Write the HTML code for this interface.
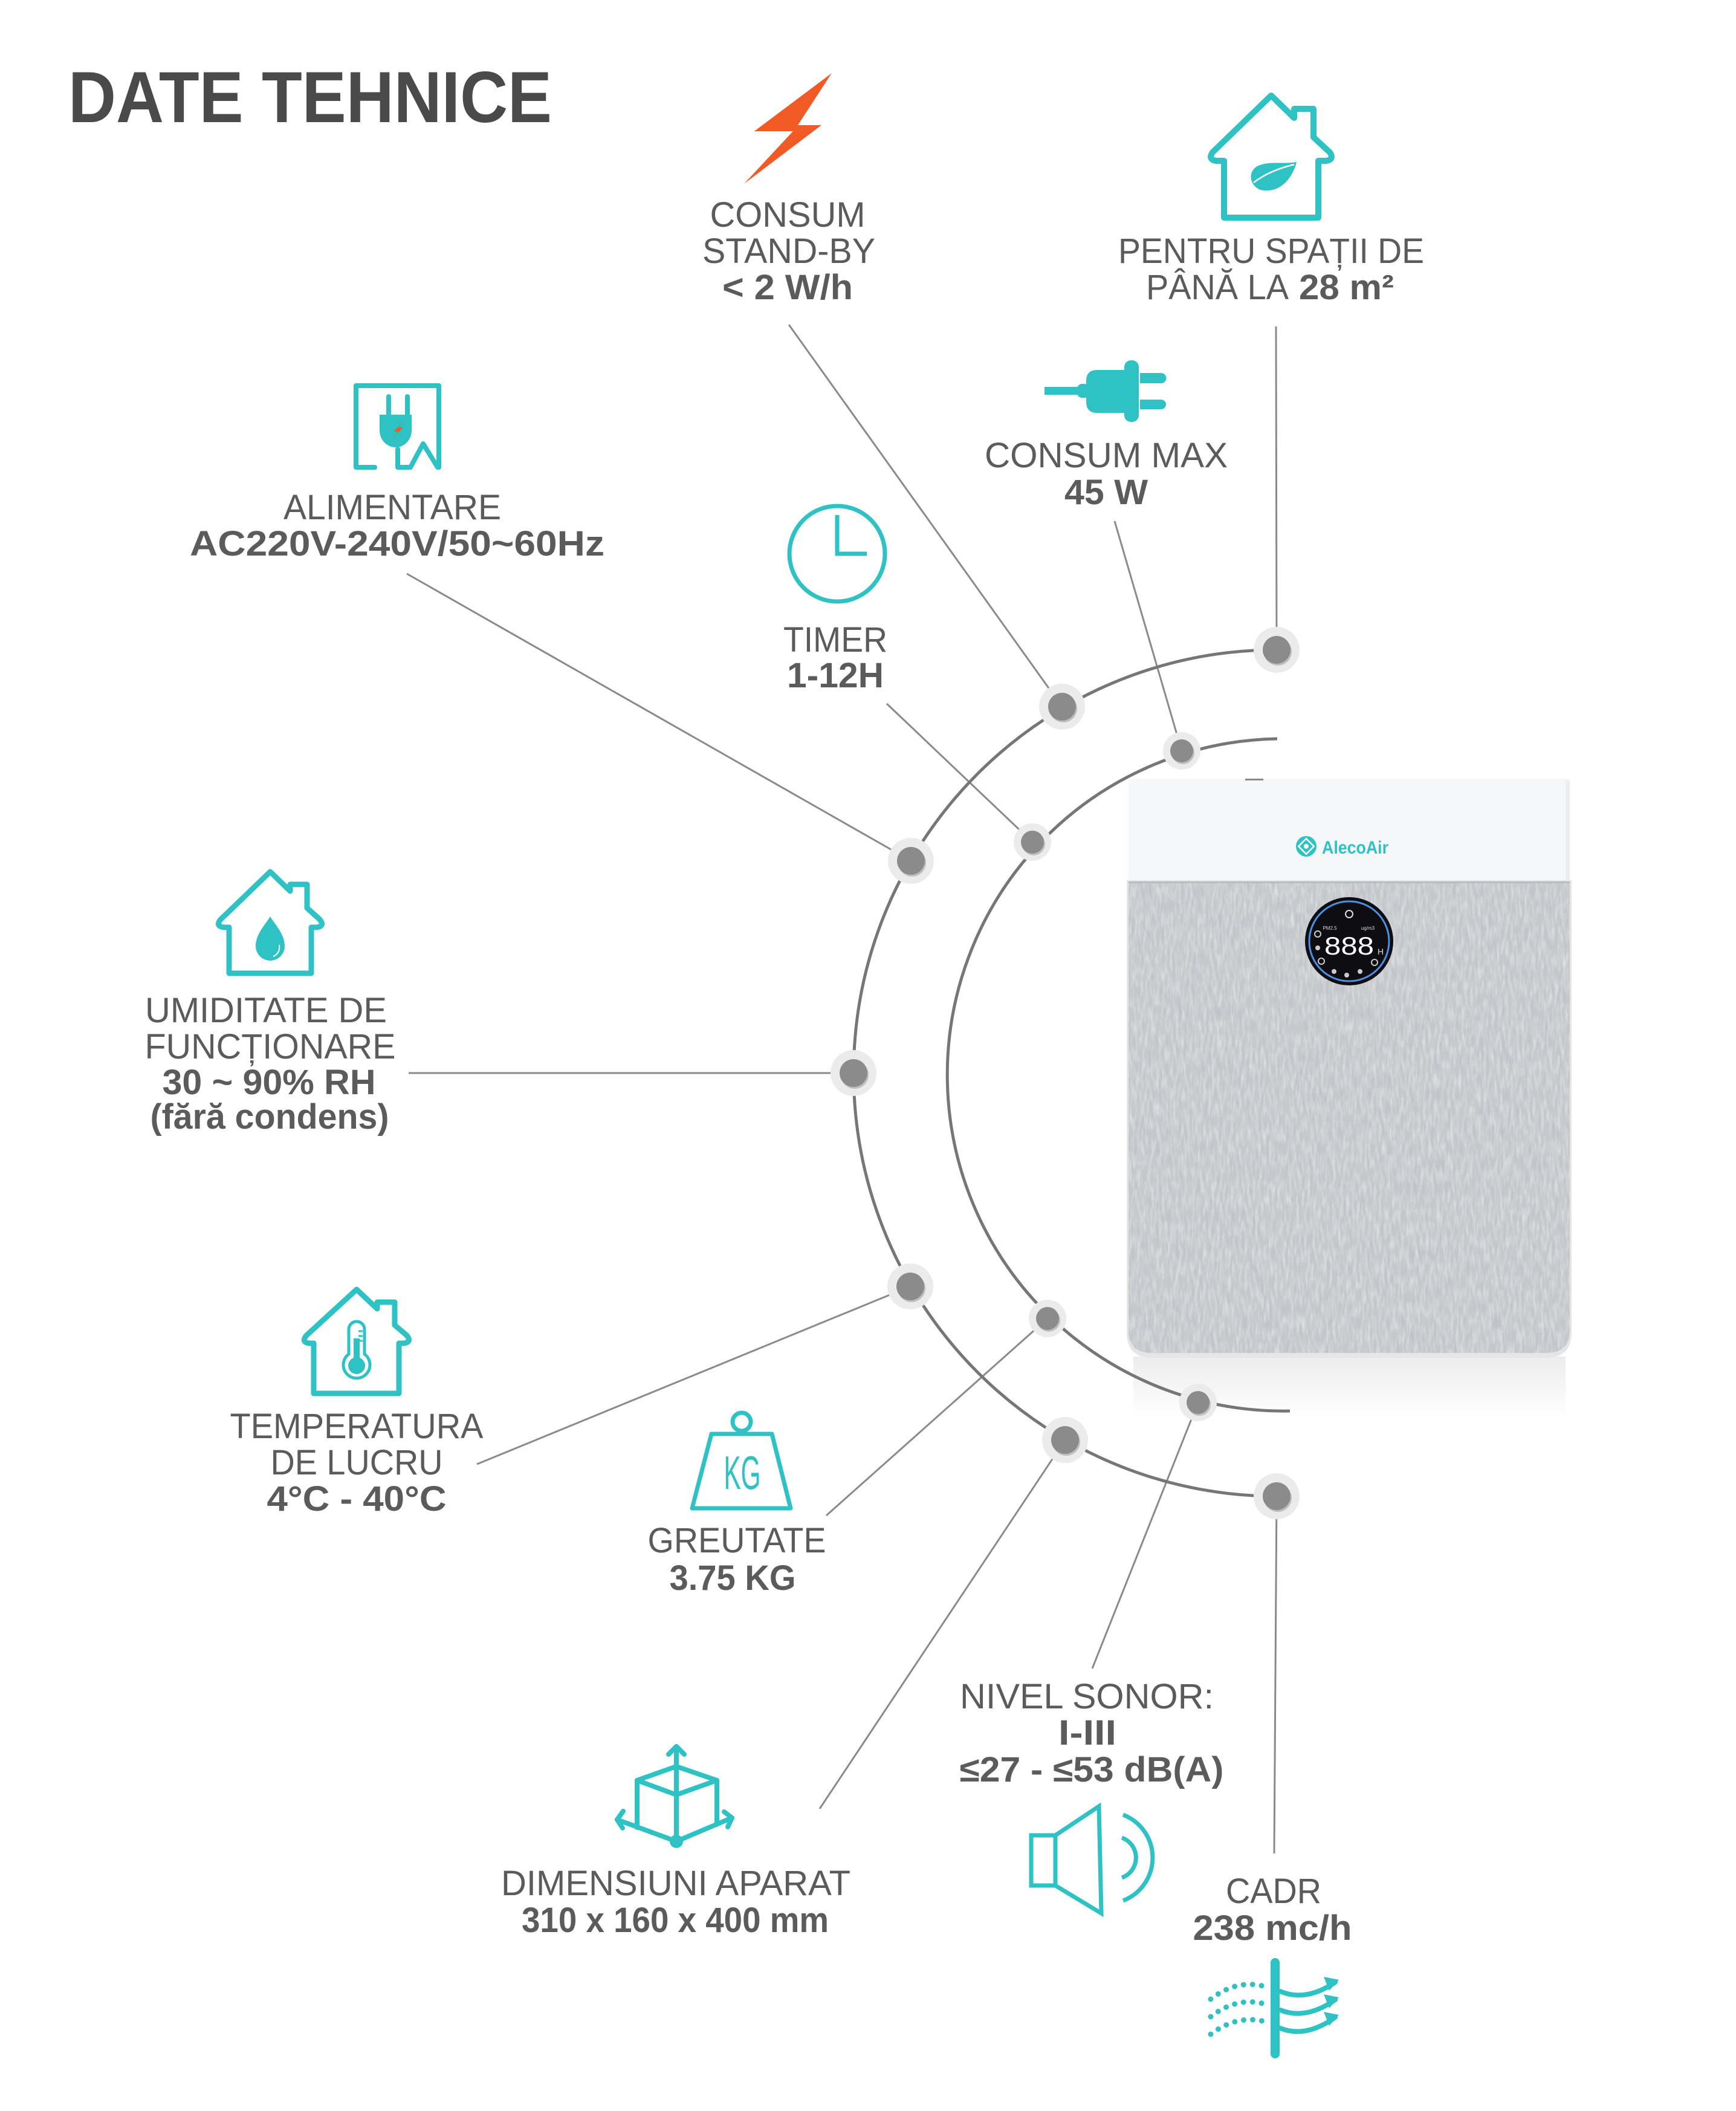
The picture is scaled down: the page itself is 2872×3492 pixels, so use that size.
<!DOCTYPE html>
<html>
<head>
<meta charset="utf-8">
<style>
html,body{margin:0;padding:0;background:#fff;}
svg{display:block;}
text{font-family:"Liberation Sans",Arial,sans-serif;}
</style>
</head>
<body>
<svg width="2872" height="3492" viewBox="0 0 2872 3492" xmlns="http://www.w3.org/2000/svg">
<defs>
  <filter id="noise" x="0" y="0" width="1" height="1">
    <feTurbulence type="fractalNoise" baseFrequency="0.22 0.045" numOctaves="3" seed="7" result="t"/>
    <feColorMatrix in="t" type="matrix" values="0 0 0 0 1  0 0 0 0 1  0 0 0 0 1  0.9 0 0 0 -0.33"/>
  </filter>
  <filter id="noise2" x="0" y="0" width="1" height="1">
    <feTurbulence type="fractalNoise" baseFrequency="0.18 0.035" numOctaves="2" seed="3" result="t"/>
    <feColorMatrix in="t" type="matrix" values="0 0 0 0 0.45  0 0 0 0 0.46  0 0 0 0 0.5  0.8 0 0 0 -0.33"/>
  </filter>
  <clipPath id="fc"><path d="M1867 1459 H2597 V2200 Q2597 2238 2559 2238 H1905 Q1867 2238 1867 2200 Z"/></clipPath>
  <linearGradient id="refl" x1="0" y1="0" x2="0" y2="1">
    <stop offset="0" stop-color="#ececec"/>
    <stop offset="1" stop-color="#ffffff"/>
  </linearGradient>
</defs>
<rect width="2872" height="3492" fill="#fff"/>

<!-- Title -->
<text x="113" y="202" font-size="120" font-weight="700" fill="#4a4a4a" textLength="800" lengthAdjust="spacingAndGlyphs">DATE TEHNICE</text>

<!-- Product -->
<rect x="1875" y="2244" width="715" height="100" fill="url(#refl)"/>
<path d="M1867 1460 V1296 Q1867 1288 1875 1288 H2589 Q2597 1288 2597 1296 V1460 Z" fill="#f6f7f8"/>
<rect x="2590" y="1290" width="7" height="170" fill="#eceeef"/>
<rect x="2060" y="1288" width="30" height="3" fill="#888"/>
<path d="M1864 1456 H2600 V2204 Q2600 2246 2558 2246 H1906 Q1864 2246 1864 2204 Z" fill="#e4e5e7"/>
<rect x="1867" y="1459" width="730" height="780" fill="#c6c8cc" clip-path="url(#fc)"/>
<g clip-path="url(#fc)">
  <rect x="1867" y="1459" width="730" height="780" filter="url(#noise)"/>
  <rect x="1867" y="1459" width="730" height="780" filter="url(#noise2)"/>
</g>
<rect x="1867" y="1458" width="730" height="3" fill="#b9bbbf"/>
<!-- logo -->
<circle cx="2161" cy="1400" r="17" fill="#2fc2c4"/>
<rect x="2152" y="1391" width="18" height="18" fill="none" stroke="#fff" stroke-width="2.5" transform="rotate(45 2161 1400)"/>
<circle cx="2161" cy="1400" r="4" fill="#fff"/>
<text x="2187" y="1412" font-size="30" font-weight="700" fill="#2fc2c4" textLength="110" lengthAdjust="spacingAndGlyphs">AlecoAir</text>
<!-- display -->
<circle cx="2232" cy="1557" r="73" fill="#0d0d12"/>
<circle cx="2232" cy="1557" r="66" fill="none" stroke="#4d8fe2" stroke-width="3"/>
<text x="2232" y="1579" font-size="42" fill="#fff" text-anchor="middle" font-family="Liberation Mono, monospace" textLength="82" lengthAdjust="spacingAndGlyphs">888</text>
<circle cx="2232" cy="1512" r="6" fill="none" stroke="#ddd" stroke-width="2"/>
<text x="2200" y="1538" font-size="8" fill="#ddd" text-anchor="middle">PM2.5</text>
<text x="2263" y="1538" font-size="8" fill="#ddd" text-anchor="middle">ug/m3</text>
<text x="2284" y="1579" font-size="14" fill="#ddd" text-anchor="middle">H</text>
<circle cx="2180" cy="1545" r="5" fill="none" stroke="#ccc" stroke-width="2"/>
<circle cx="2180" cy="1568" r="4" fill="#ccc"/>
<circle cx="2186" cy="1590" r="5" fill="none" stroke="#ccc" stroke-width="2"/>
<circle cx="2207" cy="1607" r="4" fill="#ccc"/>
<circle cx="2228" cy="1613" r="4" fill="#ccc"/>
<circle cx="2250" cy="1607" r="4" fill="#ccc"/>
<circle cx="2274" cy="1592" r="5" fill="none" stroke="#ccc" stroke-width="2"/>

<!-- Connector lines -->
<g stroke="#8a8a8a" stroke-width="3" fill="none">
  <line x1="1305" y1="537" x2="1757" y2="1169"/>
  <line x1="2111" y1="540" x2="2112" y2="1075"/>
  <line x1="1844" y1="862" x2="1955" y2="1242"/>
  <line x1="673" y1="949" x2="1507" y2="1424"/>
  <line x1="1467" y1="1164" x2="1708" y2="1393"/>
  <line x1="676" y1="1775" x2="1412" y2="1775"/>
  <line x1="789" y1="2422" x2="1506" y2="2128"/>
  <line x1="1367" y1="2507" x2="1733" y2="2181"/>
  <line x1="1807" y1="2760" x2="1982" y2="2320"/>
  <line x1="1356" y1="2992" x2="1762" y2="2382"/>
  <line x1="2108" y1="3066" x2="2112" y2="2475"/>
</g>

<!-- Arcs -->
<path d="M2112 1075 A700 700 0 0 0 2112 2475" fill="none" stroke="#767676" stroke-width="5"/>
<path d="M2113 1222 A556 556 0 1 0 2134 2334" fill="none" stroke="#767676" stroke-width="5"/>

<!-- Dots -->
<g>
  <g fill="#ebebeb">
    <circle cx="2112" cy="1075" r="38"/>
    <circle cx="1757" cy="1169" r="38"/>
    <circle cx="1507" cy="1424" r="38"/>
    <circle cx="1412" cy="1775" r="38"/>
    <circle cx="1506" cy="2128" r="38"/>
    <circle cx="1762" cy="2382" r="38"/>
    <circle cx="2112" cy="2475" r="38"/>
    <circle cx="1955" cy="1242" r="31"/>
    <circle cx="1708" cy="1393" r="31"/>
    <circle cx="1733" cy="2181" r="31"/>
    <circle cx="1982" cy="2320" r="31"/>
  </g>
  <g fill="#6e6e6e" opacity="0.35">
    <circle cx="2114" cy="1078" r="23"/>
    <circle cx="1759" cy="1172" r="23"/>
    <circle cx="1509" cy="1427" r="23"/>
    <circle cx="1414" cy="1778" r="23"/>
    <circle cx="1508" cy="2131" r="23"/>
    <circle cx="1764" cy="2385" r="23"/>
    <circle cx="2114" cy="2478" r="23"/>
    <circle cx="1957" cy="1245" r="19"/>
    <circle cx="1710" cy="1396" r="19"/>
    <circle cx="1735" cy="2184" r="19"/>
    <circle cx="1984" cy="2323" r="19"/>
  </g>
  <g fill="#8b8b8b">
    <circle cx="2112" cy="1075" r="23"/>
    <circle cx="1757" cy="1169" r="23"/>
    <circle cx="1507" cy="1424" r="23"/>
    <circle cx="1412" cy="1775" r="23"/>
    <circle cx="1506" cy="2128" r="23"/>
    <circle cx="1762" cy="2382" r="23"/>
    <circle cx="2112" cy="2475" r="23"/>
    <circle cx="1955" cy="1242" r="19"/>
    <circle cx="1708" cy="1393" r="19"/>
    <circle cx="1733" cy="2181" r="19"/>
    <circle cx="1982" cy="2320" r="19"/>
  </g>
</g>

<!-- Icons -->
<polygon points="1376,121 1248,217 1312,217 1231,304 1359,207 1320,207" fill="#f15a24"/>

<path d="M2025 266 L2012 266 Q1998 264 2006 252 L2103 158 L2141 195 V180 H2173 V227 L2200 252 Q2208 264 2194 266 L2181 266 V360 H2025 Z" fill="none" stroke="#2fc2c4" stroke-width="10" stroke-linejoin="round"/>
<path d="M2085 314 C2066 306 2064 282 2082 274 C2100 266 2125 272 2145 268 C2140 290 2120 322 2085 314 Z" fill="#2fc2c4"/>
<path d="M2074 302 Q2100 282 2141 272" fill="none" stroke="#fff" stroke-width="2.5"/>

<g fill="none" stroke="#2fc2c4" stroke-width="8" stroke-linecap="round" stroke-linejoin="round">
  <path d="M620 773 H589 V638 H726 V773"/>
  <path d="M658 743 V773 H679 L700 734 L724 773"/>
  <line x1="643" y1="656" x2="643" y2="688"/>
  <line x1="674" y1="656" x2="674" y2="688"/>
</g>
<path d="M628 686 H681 V712 A26.5 28 0 0 1 628 712 Z" fill="#2fc2c4"/>
<polygon points="672,693 651,714 659,714 646,729 667,707 659,707" fill="#f15a24"/>

<g fill="#2fc2c4">
  <rect x="1728" y="640" width="60" height="13"/>
  <rect x="1782" y="635" width="20" height="23" rx="8"/>
  <path d="M1815 612 H1863 V683 H1815 Q1797 683 1797 665 V630 Q1797 612 1815 612 Z"/>
  <rect x="1860" y="596" width="24" height="102" rx="11"/>
  <path d="M1886 617 H1921 A8 8 0 0 1 1921 634 H1886 Z"/>
  <path d="M1886 661 H1921 A8 8 0 0 1 1921 677 H1886 Z"/>
</g>

<circle cx="1385" cy="916" r="79" fill="none" stroke="#2fc2c4" stroke-width="7"/>
<path d="M1385 852 V916 H1434" fill="none" stroke="#2fc2c4" stroke-width="7"/>

<path d="M379 1534 L370 1534 Q356 1532 365 1521 L447 1442 L480 1474 V1463 H508 V1502 L529 1521 Q538 1532 524 1534 L515 1534 V1610 H379 Z" fill="none" stroke="#2fc2c4" stroke-width="9" stroke-linejoin="round"/>
<path d="M447 1516 C440 1528 423 1545 423 1565 A24 24 0 0 0 471 1565 C471 1545 454 1528 447 1516 Z" fill="#2fc2c4"/>
<path d="M462 1563 Q464 1577 452 1582" fill="none" stroke="#fff" stroke-width="2"/>

<path d="M519 2222 L511 2222 Q498 2220 507 2209 L590 2133 L624 2165 V2154 H653 V2192 L673 2209 Q682 2220 668 2222 L660 2222 V2305 H519 Z" fill="none" stroke="#2fc2c4" stroke-width="9" stroke-linejoin="round"/>
<path d="M577 2240 V2199 A13 13 0 0 1 603 2199 V2240 A22 22 0 1 1 577 2240 Z" fill="none" stroke="#2fc2c4" stroke-width="5"/>
<rect x="585" y="2214" width="10" height="40" fill="#2fc2c4"/>
<circle cx="590" cy="2259" r="14" fill="#2fc2c4"/>
<g stroke="#2fc2c4" stroke-width="3"><line x1="593" y1="2202" x2="600" y2="2202"/><line x1="593" y1="2210" x2="600" y2="2210"/><line x1="593" y1="2218" x2="600" y2="2218"/></g>

<circle cx="1227" cy="2352" r="15" fill="none" stroke="#2fc2c4" stroke-width="7"/>
<polygon points="1177,2372 1277,2372 1308,2495 1145,2495" fill="none" stroke="#2fc2c4" stroke-width="7" stroke-linejoin="round"/>
<text x="1228" y="2463" font-size="78" fill="#2fc2c4" text-anchor="middle" textLength="61" lengthAdjust="spacingAndGlyphs">KG</text>

<g fill="none" stroke="#2fc2c4" stroke-width="8" stroke-linecap="round" stroke-linejoin="round">
  <line x1="1119" y1="3046" x2="1119" y2="2889"/>
  <polyline points="1106,2902 1119,2889 1132,2902"/>
  <polygon points="1119,2922 1054,2945 1119,2969 1186,2945"/>
  <line x1="1054" y1="2945" x2="1054" y2="3023"/>
  <line x1="1186" y1="2945" x2="1186" y2="3018"/>
  <line x1="1119" y1="3046" x2="1021" y2="3010"/>
  <line x1="1119" y1="3046" x2="1211" y2="3007"/>
  <polyline points="1031,2996 1021,3010 1030,3024"/>
  <polyline points="1198,2997 1211,3007 1204,3022"/>
</g>
<circle cx="1119" cy="3046" r="11" fill="#2fc2c4"/>

<g fill="none" stroke="#2fc2c4" stroke-width="7" stroke-linejoin="miter">
  <rect x="1706" y="3036" width="40" height="83"/>
  <polygon points="1746,3036 1818,2988 1822,3165 1746,3119"/>
  <path d="M1856 3040 A35 35 0 0 1 1856 3106"/>
  <path d="M1858 3002 A76 76 0 0 1 1858 3144"/>
</g>

<rect x="2102" y="3239" width="15" height="166" rx="7.5" fill="#2fc2c4"/>
<g fill="none" stroke="#2fc2c4" stroke-width="9" stroke-linecap="round" stroke-dasharray="0 15">
  <path d="M2003 3307 Q2048 3272 2096 3287"/>
  <path d="M2003 3336 Q2048 3301 2096 3316"/>
  <path d="M2003 3365 Q2048 3331 2096 3345"/>
</g>
<g fill="none" stroke="#2fc2c4" stroke-width="8" stroke-linecap="round" stroke-linejoin="round">
  <path d="M2118 3294 Q2160 3312 2209 3279"/>
  <path d="M2118 3325 Q2160 3342 2209 3308"/>
  <path d="M2118 3355 Q2160 3372 2209 3337"/>
</g>
<g fill="#2fc2c4">
  <polygon points="2215,3275 2190,3270 2199,3293"/>
  <polygon points="2215,3304 2190,3299 2199,3322"/>
  <polygon points="2215,3333 2190,3328 2199,3351"/>
</g>

<!-- Labels -->
<g fill="#5b5b5b" font-size="58">
  <text x="1303" y="375" text-anchor="middle" textLength="257" lengthAdjust="spacingAndGlyphs">CONSUM</text>
  <text x="1305" y="435" text-anchor="middle" textLength="286" lengthAdjust="spacingAndGlyphs">STAND-BY</text>
  <text x="1303" y="495" text-anchor="middle" font-weight="700" textLength="216" lengthAdjust="spacingAndGlyphs">&lt; 2 W/h</text>

  <text x="2103" y="435" text-anchor="middle" textLength="506" lengthAdjust="spacingAndGlyphs">PENTRU SPAȚII DE</text>
  <text x="1896" y="495" textLength="236" lengthAdjust="spacingAndGlyphs">PÂNĂ LA</text>
  <text x="2149" y="495" font-weight="700" textLength="157" lengthAdjust="spacingAndGlyphs">28 m²</text>

  <text x="1830" y="773" text-anchor="middle" textLength="402" lengthAdjust="spacingAndGlyphs">CONSUM MAX</text>
  <text x="1830" y="834" text-anchor="middle" font-weight="700" textLength="138" lengthAdjust="spacingAndGlyphs">45 W</text>

  <text x="649" y="859" text-anchor="middle" textLength="360" lengthAdjust="spacingAndGlyphs">ALIMENTARE</text>
  <text x="657" y="919" text-anchor="middle" font-weight="700" textLength="686" lengthAdjust="spacingAndGlyphs">AC220V-240V/50~60Hz</text>

  <text x="1382" y="1078" text-anchor="middle" textLength="172" lengthAdjust="spacingAndGlyphs">TIMER</text>
  <text x="1382" y="1137" text-anchor="middle" font-weight="700" textLength="160" lengthAdjust="spacingAndGlyphs">1-12H</text>

  <text x="440" y="1691" text-anchor="middle" textLength="400" lengthAdjust="spacingAndGlyphs">UMIDITATE DE</text>
  <text x="447" y="1751" text-anchor="middle" textLength="415" lengthAdjust="spacingAndGlyphs">FUNCȚIONARE</text>
  <text x="445" y="1810" text-anchor="middle" font-weight="700" textLength="353" lengthAdjust="spacingAndGlyphs">30 ~ 90% RH</text>
  <text x="446" y="1867" text-anchor="middle" font-weight="700" textLength="395" lengthAdjust="spacingAndGlyphs">(fără condens)</text>

  <text x="590" y="2379" text-anchor="middle" textLength="419" lengthAdjust="spacingAndGlyphs">TEMPERATURA</text>
  <text x="590" y="2439" text-anchor="middle" textLength="285" lengthAdjust="spacingAndGlyphs">DE LUCRU</text>
  <text x="590" y="2499" text-anchor="middle" font-weight="700" textLength="297" lengthAdjust="spacingAndGlyphs">4°C - 40°C</text>

  <text x="1219" y="2568" text-anchor="middle" textLength="295" lengthAdjust="spacingAndGlyphs">GREUTATE</text>
  <text x="1212" y="2630" text-anchor="middle" font-weight="700" textLength="209" lengthAdjust="spacingAndGlyphs">3.75 KG</text>

  <text x="1118" y="3135" text-anchor="middle" textLength="578" lengthAdjust="spacingAndGlyphs">DIMENSIUNI APARAT</text>
  <text x="1117" y="3196" text-anchor="middle" font-weight="700" textLength="508" lengthAdjust="spacingAndGlyphs">310 x 160 x 400 mm</text>

  <text x="1798" y="2826" text-anchor="middle" textLength="420" lengthAdjust="spacingAndGlyphs">NIVEL SONOR:</text>
  <text x="1799" y="2886" text-anchor="middle" font-weight="700" textLength="96" lengthAdjust="spacingAndGlyphs">I-III</text>
  <text x="1806" y="2947" text-anchor="middle" font-weight="700" textLength="437" lengthAdjust="spacingAndGlyphs">≤27 - ≤53 dB(A)</text>

  <text x="2107" y="3148" text-anchor="middle" textLength="158" lengthAdjust="spacingAndGlyphs">CADR</text>
  <text x="2105" y="3209" text-anchor="middle" font-weight="700" textLength="263" lengthAdjust="spacingAndGlyphs">238 mc/h</text>
</g>
</svg>
</body>
</html>
